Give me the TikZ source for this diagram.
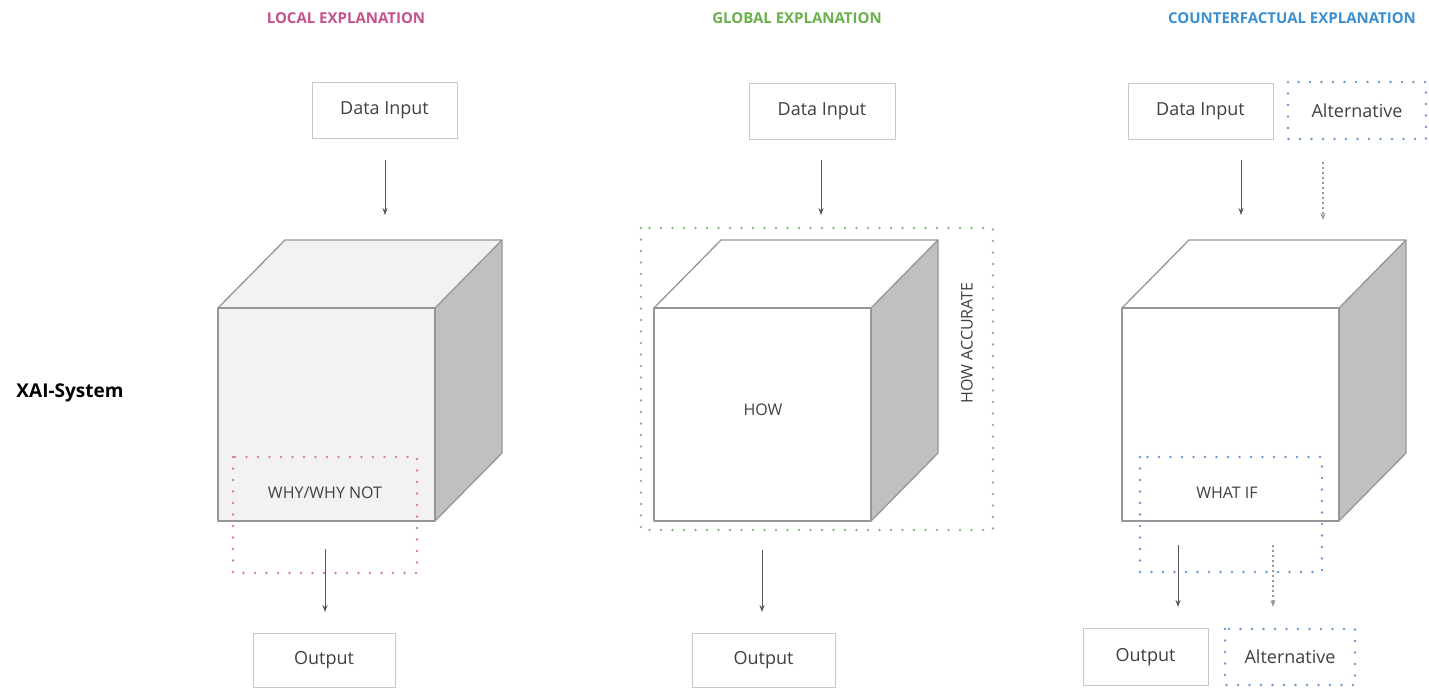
\documentclass[tikz,border=0pt]{standalone}
\usepackage{fontspec}
\setmainfont{Open Sans}
\usetikzlibrary{arrows.meta}
\definecolor{txt}{RGB}{64,64,64}
\definecolor{boxc}{RGB}{200,200,200}
\definecolor{edgec}{RGB}{150,150,150}
\definecolor{sidec}{RGB}{192,192,192}
\definecolor{lightf}{RGB}{242,242,242}
\definecolor{arrc}{RGB}{85,85,85}
\definecolor{pinkc}{RGB}{196,82,140}
\definecolor{greenc}{RGB}{106,176,76}
\definecolor{bluec}{RGB}{58,143,208}
\definecolor{pinkd}{RGB}{212,125,165}
\definecolor{greend}{RGB}{135,190,125}
\definecolor{blued}{RGB}{105,155,210}
\newcommand{\xaicube}[3]{% #1 left x, #2 name prefix, #3 front fill
  \fill[#3] (#1,308) rectangle ({#1+217},521);
  \fill[#3] (#1,308) -- ({#1+67},240) -- ({#1+284},240) -- ({#1+217},308) -- cycle;
  \fill[sidec] ({#1+217},308) -- ({#1+284},240) -- ({#1+284},453) -- ({#1+217},521) -- cycle;
  \draw[cubeedge] (#1,308) rectangle ({#1+217},521);
  \draw[cubeedge] (#1,308) -- ({#1+67},240) -- ({#1+284},240) -- ({#1+217},308);
  \draw[cubeedge] ({#1+284},240) -- ({#1+284},453) -- ({#1+217},521);
}
\begin{document}
\begin{tikzpicture}[x=1pt,y=-1pt,
  title/.style={font=\fontsize{15}{18}\selectfont\bfseries},
  plainbox/.style={draw=boxc,line width=0.9pt,fill=white,text=txt,font=\fontsize{18}{21}\selectfont,inner sep=0pt},
  dotbox/.style={line width=2.8pt,line cap=round,dash pattern=on 0pt off 11.5pt},
  cubeedge/.style={draw=edgec,line width=1.3pt,line join=round},
  arr/.style={draw=arrc,line width=1pt,-{Stealth[length=7pt,width=5pt]}},
  darr/.style={draw=edgec,line width=1.2pt,dash pattern=on 2pt off 3pt,-{Stealth[length=7pt,width=5pt]}},
  lbl/.style={text=txt,font=\fontsize{16}{19}\selectfont}]
\useasboundingbox (0,0) rectangle (1429,688);
\fill[white] (0,0) rectangle (1429,688);

% titles
\node[title,text=pinkc] (t1) at (346,18) {LOCAL EXPLANATION};
\node[title,text=greenc] (t2) at (797,18) {GLOBAL EXPLANATION};
\node[title,text=bluec] (t3) at (1292,18) {COUNTERFACTUAL EXPLANATION};
\node[font=\fontsize{19}{22}\selectfont\bfseries,text=black] (xai) at (70,393) {XAI-System};

% cubes
\xaicube{218}{c1}{lightf}
\xaicube{654}{c2}{white}
\xaicube{1122}{c3}{white}

% input boxes
\node[plainbox,minimum width=145pt,minimum height=56pt] (d1) at (384.5,110.5) {Data Input};
\node[plainbox,minimum width=146pt,minimum height=56pt] (d2) at (822,111) {Data Input};
\node[plainbox,minimum width=145pt,minimum height=56pt] (d3) at (1200.5,111) {Data Input};
\node[text=txt,font=\fontsize{18}{21}\selectfont,minimum width=138pt,minimum height=57pt,inner sep=0pt] (a3) at (1357,110.5) {Alternative};
\draw[dotbox,draw=blued] (1288,82) rectangle (1426,139);

% input arrows
\coordinate (d1s) at (385,160);
\coordinate (d1e) at (385,215);
\coordinate (d2s) at (821,160);
\coordinate (d2e) at (821,215);
\coordinate (d3s) at (1241,160);
\coordinate (d3e) at (1241,215);
\coordinate (a3s) at (1323,162);
\coordinate (a3e) at (1323,220);
\draw[arr] (d1s) -- (d1e);
\draw[arr] (d2s) -- (d2e);
\draw[arr] (d3s) -- (d3e);
\draw[darr] (a3s) -- (a3e);

% local
\node[lbl] (why) at (325,493) {WHY/WHY NOT};
\draw[dotbox,draw=pinkd] (233,457) rectangle (417,573);
\node[plainbox,minimum width=142pt,minimum height=54pt] (o1) at (324,660) {Output};
\coordinate (w1) at (325,549);
\coordinate (w1e) at (325,612);
\draw[arr] (w1) -- (w1e);

% global
\node[lbl] (how) at (763,410) {HOW};
\node[lbl,rotate=90] (howacc) at (967,343) {HOW ACCURATE};
\draw[dotbox,draw=greend] (641,228) rectangle (993,530);
\node[plainbox,minimum width=143pt,minimum height=54pt] (o2) at (763.5,660) {Output};
\coordinate (w2) at (762,550);
\coordinate (w2e) at (762,612);
\draw[arr] (w2) -- (w2e);

% counterfactual
\node[lbl] (whatif) at (1227,493) {WHAT IF};
\draw[dotbox,draw=blued] (1140,457) rectangle (1322,572);
\node[plainbox,minimum width=125pt,minimum height=57pt] (o3) at (1145.5,657) {Output};
\node[text=txt,font=\fontsize{18}{21}\selectfont,minimum width=130pt,minimum height=57pt,inner sep=0pt] (a4) at (1290,657) {Alternative};
\draw[dotbox,draw=blued] (1225,629) rectangle (1355,685);
\coordinate (w3) at (1178,545);
\coordinate (w3e) at (1178,607);
\coordinate (w4) at (1273,545);
\coordinate (w4e) at (1273,607);
\draw[arr] (w3) -- (w3e);
\draw[darr] (w4) -- (w4e);
\end{tikzpicture}
\end{document}
